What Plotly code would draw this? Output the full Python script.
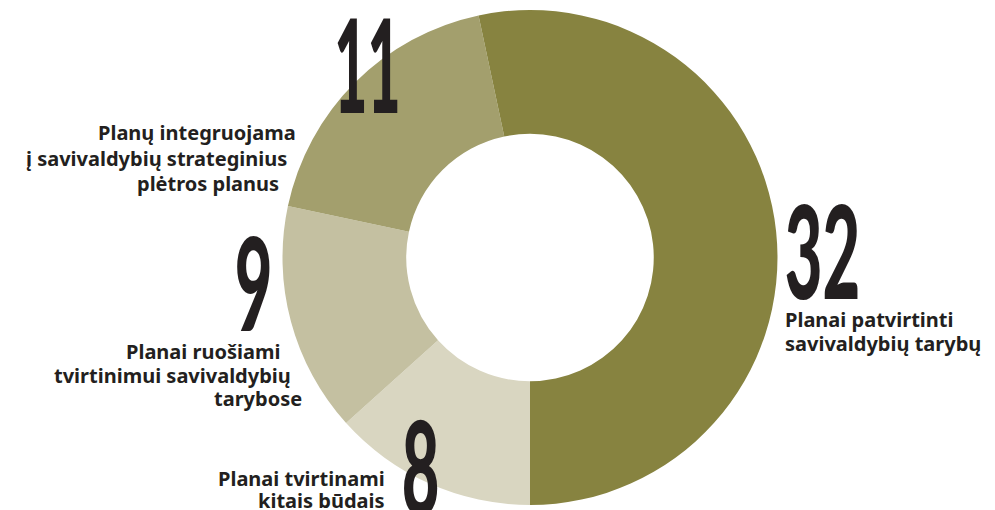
import plotly.graph_objects as go

# Data (ordered clockwise starting at 6 o'clock)
values = [8, 9, 11, 32]
categories = [
    "Planai tvirtinami kitais būdais",
    "Planai ruošiami tvirtinimui savivaldybių tarybose",
    "Planų integruojama į savivaldybių strateginius plėtros planus",
    "Planai patvirtinti savivaldybių tarybų",
]
colors = ["#d9d6c1", "#c4c0a1", "#a39f6d", "#878340"]

W, H = 995, 510
TXT = "#231f20"
NUM_FONT = "Lato, Liberation Sans, sans-serif"
LAB_FONT = "Noto Sans, Open Sans, sans-serif"

fig = go.Figure(go.Pie(
    values=values,
    labels=categories,
    marker=dict(colors=colors, line=dict(width=0)),
    hole=0.5,
    sort=False,
    direction="clockwise",
    rotation=180,
    textinfo="none",
    hoverinfo="none",
    showlegend=False,
    domain=dict(x=[282.5 / W, 777.5 / W], y=[5 / H, 500 / H]),
))


def px(x):
    return x / W


def py(y):
    return 1 - y / H


ann = []
# big numbers: (text, center x, center y)
nums = [(str(values[2]), 367, 63), (str(values[3]), 822, 249),
        (str(values[1]), 253, 281), (str(values[0]), 420, 465)]
for t, x, y in nums:
    ann.append(dict(text=t, x=px(x), y=py(y), xref="paper", yref="paper",
                    xanchor="center", yanchor="middle", showarrow=False,
                    font=dict(family=NUM_FONT, size=130, color=TXT, weight=900)))

# label lines: (text, x, y, anchor)
lines = [
    ("Planų integruojama", 298, 133, "right"),
    ("į savivaldybių strateginius", 289, 158, "right"),
    ("plėtros planus", 281, 183, "right"),
    ("Planai ruošiami", 282, 351, "right"),
    ("tvirtinimui savivaldybių", 293, 375, "right"),
    ("tarybose", 304, 398, "right"),
    ("Planai tvirtinami", 387, 478, "right"),
    ("kitais būdais", 387, 500, "right"),
    ("Planai patvirtinti", 783, 319, "left"),
    ("savivaldybių tarybų", 783, 343, "left"),
]
for t, x, y, a in lines:
    ann.append(dict(text=t, x=px(x), y=py(y), xref="paper", yref="paper",
                    xanchor=a, yanchor="middle", showarrow=False,
                    font=dict(family=LAB_FONT, size=20, color=TXT, weight=700)))

fig.update_layout(
    width=W, height=H,
    margin=dict(l=0, r=0, t=0, b=0),
    paper_bgcolor="white", plot_bgcolor="white",
    annotations=ann,
)

# remove page margin; condense the big numbers horizontally (they stay real text)
post = """
document.body.style.margin = '0px';
var gd = document.getElementById('{plot_id}');
gd.querySelectorAll('g.annotation text.annotation-text').forEach(function(el){
  if (/^\\d+$/.test(el.textContent.trim())) {
    var b = el.getBBox();
    var cx = b.x + b.width / 2;
    var sx = el.textContent.trim() === '11' ? 0.44 : 0.5;
    var prev = el.getAttribute('transform') || '';
    el.setAttribute('transform', prev + ' translate(' + cx + ',0) scale(' + sx + ',1) translate(' + (-cx) + ',0)');
  }
});
"""

fig.write_html("out.html", post_script=post, config={"displayModeBar": False})
